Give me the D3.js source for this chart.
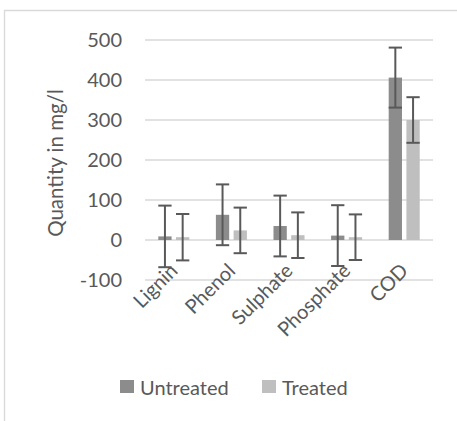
<!DOCTYPE html>
<html>
<head>
<meta charset="utf-8">
<script src="https://cdn.jsdelivr.net/npm/d3@7"></script>
<style>
	body { margin:0; background:#fff; }
	svg { display:block; font-family: Lato, 'Open Sans', sans-serif; }
	.grid line { stroke:#d9d9d9; stroke-width:1.5; }
	.label { fill:#595959; font-size:20px; }
</style>
</head>
<body>
<svg id="chart" width="457" height="421"></svg>
<script>
var categories = ['Lignin', 'Phenol', 'Sulphate', 'Phosphate', 'COD'];
var seriesNames = ['Untreated', 'Treated'];
var untreated = [9, 63, 35, 11, 406];
var treated = [7, 24, 12, 7, 300];
var untreatedErr = [77, 76, 76, 76, 75];
var treatedErr = [58, 57, 57, 57, 57];
var yTicks = [-100, 0, 100, 200, 300, 400, 500];

var colors = ['#8c8c8c', '#bfbfbf'];

var svg = d3.select('#chart');

// chart frame (cut off at right and bottom like the source)
svg.append('path')
	.attr('d', 'M4.5,' + 460 + 'V10.5H470')
	.attr('fill', 'none')
	.attr('stroke', '#d9d9d9')
	.attr('stroke-width', 1.3);

var y = d3.scaleLinear().domain([-100, 500]).range([280, 40]);
var x0 = d3.scaleBand().domain(categories).range([145, 433]);
var x1 = d3.scaleBand().domain(seriesNames)
	.range([0, x0.bandwidth()])
	.paddingInner(0.25)
	.paddingOuter(0.75);

// gridlines
svg.append('g')
	.attr('class', 'grid')
	.selectAll('line')
	.data(yTicks)
	.enter()
	.append('line')
	.attr('x1', 145)
	.attr('x2', 433)
	.attr('y1', d=>y(d))
	.attr('y2', d=>y(d));

// y tick labels
svg.append('g')
	.selectAll('text')
	.data(yTicks)
	.enter()
	.append('text')
	.attr('class', 'label')
	.attr('x', 122)
	.attr('y', d=>y(d))
	.attr('dy', '0.36em')
	.attr('text-anchor', 'end')
	.text(d=>d);

// y axis title
svg.append('text')
	.attr('class', 'label')
	.attr('transform', 'translate(63,' + 163 + ') rotate(-90)')
	.attr('text-anchor', 'middle')
	.style('font-size', '20.5px')
	.text('Quantity in mg/l');

var rows = categories.map((c,i)=>{
	return [
		{cat:c, s:seriesNames[0], v:untreated[i], e:untreatedErr[i], color:colors[0]},
		{cat:c, s:seriesNames[1], v:treated[i], e:treatedErr[i], color:colors[1]}
	]
});

var group = svg.append('g')
	.selectAll('g')
	.data(rows)
	.enter()
	.append('g')
	.attr('transform', d=>'translate(' + x0(d[0].cat) + ',0)');

// bars
group.selectAll('rect')
	.data(d=>d)
	.enter()
	.append('rect')
	.attr('x', d=>x1(d.s))
	.attr('width', x1.bandwidth())
	.attr('y', d=>y(Math.max(0, d.v)))
	.attr('height', d=>Math.abs(y(d.v) - y(0)))
	.attr('fill', d=>d.color);

// error bars
var err = group.selectAll('g.err')
	.data(d=>d)
	.enter()
	.append('g')
	.attr('class', 'err')
	.attr('stroke', '#595959')
	.attr('stroke-width', 2);

err.append('line')
	.attr('x1', d=>x1(d.s) + x1.bandwidth()/2)
	.attr('x2', d=>x1(d.s) + x1.bandwidth()/2)
	.attr('y1', d=>y(d.v + d.e))
	.attr('y2', d=>y(d.v - d.e));

err.selectAll('line.cap')
	.data(d=>[d.v + d.e, d.v - d.e].map(v=>({s:d.s, v:v})))
	.enter()
	.append('line')
	.attr('class', 'cap')
	.attr('x1', d=>x1(d.s))
	.attr('x2', d=>x1(d.s) + x1.bandwidth())
	.attr('y1', d=>y(d.v))
	.attr('y2', d=>y(d.v));

// category labels, rotated
svg.append('g')
	.selectAll('text')
	.data(categories)
	.enter()
	.append('text')
	.attr('class', 'label')
	.attr('text-anchor', 'end')
	.attr('transform', d=>'translate(' + (x0(d) + x0.bandwidth()/2 - 2) + ',' + 265 + ') rotate(-45)')
	.attr('dy', '0.5em')
	.text(d=>d);

// legend
var legend = svg.append('g')
	.selectAll('g')
	.data(seriesNames)
	.enter()
	.append('g')
	.attr('transform', (d,i)=>'translate(' + [120, 262][i] + ',0)');

legend.append('rect')
	.attr('y', 380)
	.attr('width', 14)
	.attr('height', 13)
	.attr('fill', (d,i)=>colors[i]);

legend.append('text')
	.attr('class', 'label')
	.attr('x', 20)
	.attr('y', 395)
	.text(d=>d);
</script>
</body>
</html>
